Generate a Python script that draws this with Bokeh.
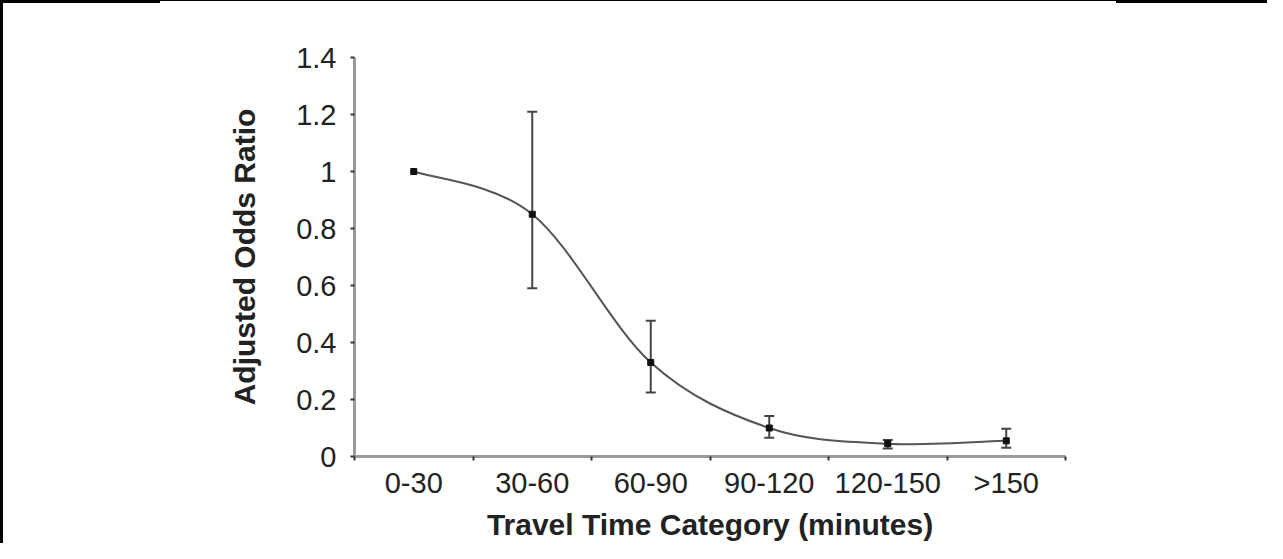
from bokeh.plotting import figure
from bokeh.models import (ColumnDataSource, Whisker, TeeHead, FixedTicker,
                          CustomJSTickFormatter, Range1d)
from bokeh.embed import file_html
from bokeh.resources import INLINE

# ---- data ----
categories = ["0-30", "30-60", "60-90", "90-120", "120-150", ">150"]
odds_ratio = [1.0, 0.85, 0.33, 0.10, 0.045, 0.055]
ci_lower = [0.59, 0.225, 0.066, 0.028, 0.031]   # for categories[1:]
ci_upper = [1.21, 0.476, 0.142, 0.058, 0.097]
y_ticks = [0, 0.2, 0.4, 0.6, 0.8, 1.0, 1.2, 1.4]

FONT = "Liberation Sans"

xs = [i + 0.5 for i in range(len(categories))]

p = figure(width=1267, height=543, output_backend="svg", toolbar_location=None,
           x_range=Range1d(0, len(categories)), y_range=Range1d(0, 1.4),
           min_border_left=354, min_border_right=202, min_border_top=57,
           min_border_bottom=83)
p.styles = {
    "background": (
        "linear-gradient(#000,#000) left top / 3px 100% no-repeat,"
        "linear-gradient(#000,#000) left top / 100% 1px no-repeat,"
        "linear-gradient(#000,#000) left top / 160px 3px no-repeat,"
        "linear-gradient(#000,#000) right top / 151px 3px no-repeat,"
        "#ffffff"
    )
}
p.border_fill_alpha = 0
p.background_fill_color = "white"
p.outline_line_color = None
p.xgrid.visible = False
p.ygrid.visible = False

# smooth curve (Catmull-Rom as cubic Bezier segments)
n = len(xs)
x0s, y0s, x1s, y1s, cx0s, cy0s, cx1s, cy1s = [], [], [], [], [], [], [], []
for i in range(n - 1):
    a = max(i - 1, 0)
    d = min(i + 2, n - 1)
    x0s.append(xs[i]); y0s.append(odds_ratio[i])
    x1s.append(xs[i + 1]); y1s.append(odds_ratio[i + 1])
    cx0s.append(xs[i] + (xs[i + 1] - xs[a]) / 6)
    cy0s.append(odds_ratio[i] + (odds_ratio[i + 1] - odds_ratio[a]) / 6)
    cx1s.append(xs[i + 1] - (xs[d] - xs[i]) / 6)
    cy1s.append(odds_ratio[i + 1] - (odds_ratio[d] - odds_ratio[i]) / 6)
p.bezier(x0=x0s, y0=y0s, x1=x1s, y1=y1s, cx0=cx0s, cy0=cy0s, cx1=cx1s, cy1=cy1s,
         line_color="#555555", line_width=2)

# error bars
err_src = ColumnDataSource(dict(x=xs[1:], lower=ci_lower, upper=ci_upper))
p.add_layout(Whisker(base="x", lower="lower", upper="upper", source=err_src,
                     line_color="#444444", line_width=2,
                     upper_head=TeeHead(size=10, line_color="#444444", line_width=2),
                     lower_head=TeeHead(size=10, line_color="#444444", line_width=2)))

p.scatter(xs, odds_ratio, marker="square", size=6, color="#111111")

# axes
p.xaxis.ticker = FixedTicker(ticks=xs, minor_ticks=list(range(len(categories) + 1)))
p.xaxis.formatter = CustomJSTickFormatter(args=dict(cats=categories),
                                          code="return cats[Math.floor(tick)];")
p.yaxis.ticker = FixedTicker(ticks=y_ticks, minor_ticks=[])
p.yaxis.formatter = CustomJSTickFormatter(code="return String(Math.round(tick*10)/10);")

for ax in (p.xaxis, p.yaxis):
    ax.axis_line_color = "#9a9a9a"
    ax.axis_line_width = 3
    ax.major_label_text_font = FONT
    ax.major_label_text_font_size = "29px"
    ax.major_label_text_color = "#222222"
    ax.axis_label_text_font = FONT
    ax.axis_label_text_font_size = "30px"
    ax.axis_label_text_font_style = "bold"
    ax.axis_label_text_color = "#222222"

p.xaxis.major_tick_out = 0
p.xaxis.major_tick_in = 0
p.xaxis.minor_tick_out = 4
p.xaxis.minor_tick_in = 0
p.xaxis.minor_tick_line_color = "#333333"
p.xaxis.minor_tick_line_width = 2
p.xaxis.major_label_standoff = 6
p.xaxis.axis_label = "Travel Time Category (minutes)"
p.xaxis.axis_label_standoff = 6

p.yaxis.major_tick_out = 4
p.yaxis.major_tick_in = 0
p.yaxis.major_tick_line_color = "#333333"
p.yaxis.major_tick_line_width = 2
p.yaxis.minor_tick_line_color = None
p.yaxis.major_label_standoff = 14
p.yaxis.axis_label = "Adjusted Odds Ratio"
p.yaxis.axis_label_standoff = 32

open("out.html", "w").write(file_html(p, INLINE))
